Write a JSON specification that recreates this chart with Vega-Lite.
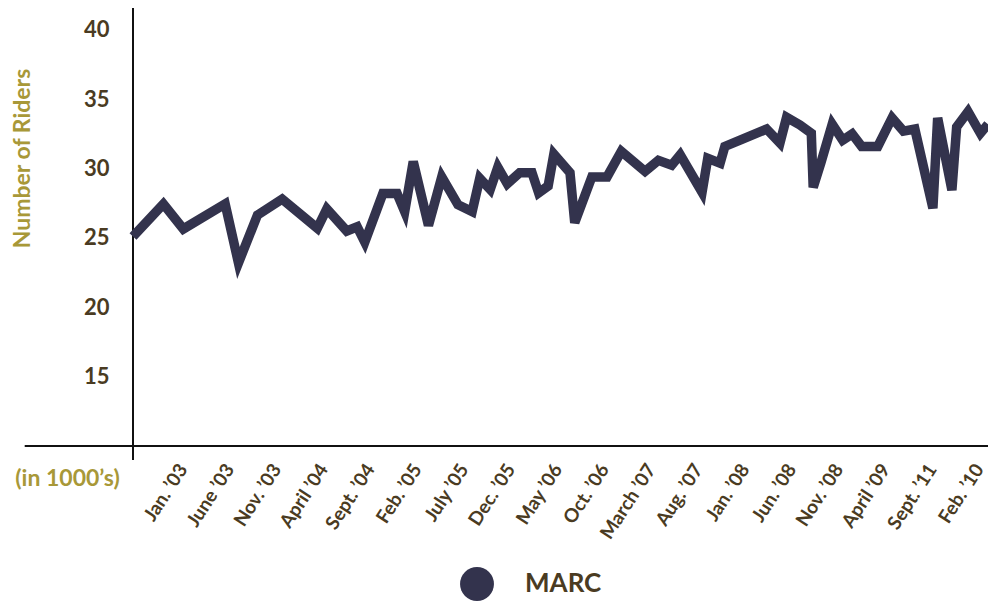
{
  "$schema": "https://vega.github.io/schema/vega-lite/v6.json",
  "width": 855,
  "height": 438,
  "autosize": {"type": "none"},
  "padding": {"left": 133, "top": 8, "right": 0, "bottom": 160},
  "background": "white",
  "config": {"view": {"stroke": null}, "font": "Lato"},
  "datasets": {
    "riders": [
      {"t": 0, "riders": 25.1}, {"t": 3.2, "riders": 27.45}, {"t": 5.3, "riders": 25.65}, {"t": 9.7, "riders": 27.45},
      {"t": 11.1, "riders": 23.2}, {"t": 13.1, "riders": 26.65}, {"t": 15.7, "riders": 27.8}, {"t": 19.4, "riders": 25.7},
      {"t": 20.4, "riders": 27.1}, {"t": 22.5, "riders": 25.5}, {"t": 23.6, "riders": 25.8}, {"t": 24.4, "riders": 24.7},
      {"t": 26.3, "riders": 28.2}, {"t": 27.8, "riders": 28.2}, {"t": 28.6, "riders": 26.9}, {"t": 29.5, "riders": 30.5},
      {"t": 31.1, "riders": 25.9}, {"t": 32.5, "riders": 29.4}, {"t": 34.2, "riders": 27.4}, {"t": 35.7, "riders": 26.9},
      {"t": 36.5, "riders": 29.3}, {"t": 37.6, "riders": 28.5}, {"t": 38.4, "riders": 30.1}, {"t": 39.4, "riders": 28.9},
      {"t": 40.7, "riders": 29.7}, {"t": 42.0, "riders": 29.7}, {"t": 42.7, "riders": 28.25}, {"t": 43.7, "riders": 28.75},
      {"t": 44.3, "riders": 31.05}, {"t": 46.0, "riders": 29.7}, {"t": 46.5, "riders": 26.1}, {"t": 48.3, "riders": 29.4},
      {"t": 49.9, "riders": 29.4}, {"t": 51.4, "riders": 31.25}, {"t": 53.9, "riders": 29.8}, {"t": 55.3, "riders": 30.6},
      {"t": 56.7, "riders": 30.25}, {"t": 57.6, "riders": 31.0}, {"t": 59.9, "riders": 28.3}, {"t": 60.5, "riders": 30.75},
      {"t": 61.8, "riders": 30.4}, {"t": 62.3, "riders": 31.6}, {"t": 63.9, "riders": 32.05}, {"t": 66.7, "riders": 32.85},
      {"t": 68.1, "riders": 31.85}, {"t": 68.8, "riders": 33.7}, {"t": 70.2, "riders": 33.15}, {"t": 71.4, "riders": 32.55},
      {"t": 71.6, "riders": 28.65}, {"t": 72.4, "riders": 30.4}, {"t": 73.6, "riders": 33.2}, {"t": 74.7, "riders": 32.05},
      {"t": 75.7, "riders": 32.5}, {"t": 76.7, "riders": 31.6}, {"t": 78.4, "riders": 31.6}, {"t": 79.9, "riders": 33.65},
      {"t": 81.1, "riders": 32.7}, {"t": 82.3, "riders": 32.85}, {"t": 84.2, "riders": 27.15}, {"t": 84.7, "riders": 33.65},
      {"t": 86.2, "riders": 28.45}, {"t": 86.7, "riders": 33.0}, {"t": 87.9, "riders": 34.1}, {"t": 89.2, "riders": 32.55},
      {"t": 90.0, "riders": 33.2}
    ]
  },
  "layer": [
    {
      "data": {"values": [{"from": -11.4, "to": 90, "level": 10}]},
      "mark": {"type": "rule", "color": "#111111", "strokeWidth": 2},
      "encoding": {
        "x": {"field": "from", "type": "quantitative", "scale": {"domain": [0, 90], "nice": false, "zero": false}},
        "x2": {"field": "to"},
        "y": {"field": "level", "type": "quantitative", "scale": {"domain": [10, 41.58], "nice": false, "zero": false}}
      }
    },
    {
      "data": {"values": [{"at": 0, "low": 8.99, "high": 41.58}]},
      "mark": {"type": "rule", "color": "#111111", "strokeWidth": 2},
      "encoding": {
        "x": {"field": "at", "type": "quantitative"},
        "y": {"field": "low", "type": "quantitative"},
        "y2": {"field": "high"}
      }
    },
    {
      "data": {"name": "riders"},
      "transform": [{"calculate": "'MARC'", "as": "series"}],
      "mark": {"type": "line", "strokeWidth": 9.5, "strokeJoin": "miter"},
      "encoding": {
        "x": {
          "field": "t", "type": "quantitative",
          "axis": {
            "values": [5.8, 10.73, 15.66, 20.59, 25.52, 30.45, 35.38, 40.31, 45.24, 50.17, 55.1, 60.03, 64.96, 69.89, 74.82, 79.75, 84.68, 89.61],
            "labelExpr": "['Jan. ’03','June ’03','Nov. ’03','April ’04','Sept. ’04','Feb. ’05','July ’05','Dec. ’05','May ’06','Oct. ’06','March ’07','Aug. ’07','Jan. ’08','Jun. ’08','Nov. ’08','April ’09','Sept. ’11','Feb. ’10'][round((datum.value-5.8)/4.93)]",
            "labelAngle": -57, "labelAlign": "right", "labelBaseline": "bottom",
            "labelPadding": 25, "labelOffset": 3, "labelFontSize": 19, "labelFontWeight": "bold", "labelColor": "#4a3b22",
            "labelOverlap": false, "labelFlush": false,
            "domain": false, "ticks": false, "grid": false,
            "title": "(in 1000’s)", "titleX": -66, "titleY": 32, "titleAlign": "center", "titleBaseline": "middle",
            "titleFontSize": 23, "titleFontWeight": "bold", "titleColor": "#a89838"
          }
        },
        "y": {
          "field": "riders", "type": "quantitative",
          "axis": {
            "values": [15, 20, 25, 30, 35, 40],
            "labelFontSize": 22, "labelFontWeight": "bold", "labelColor": "#4a3b22", "labelPadding": 24,
            "domain": false, "ticks": false, "grid": false,
            "title": "Number of Riders", "titleAngle": -90, "titleX": -111, "titleY": 150,
            "titleAlign": "center", "titleBaseline": "middle",
            "titleFontSize": 23, "titleFontWeight": "bold", "titleColor": "#a89838"
          }
        },
        "color": {
          "field": "series", "type": "nominal",
          "scale": {"domain": ["MARC"], "range": ["#33334d"]},
          "legend": {
            "title": null, "orient": "none", "legendX": 327, "legendY": 559, "padding": 0,
            "symbolType": "circle", "symbolSize": 1150, "symbolFillColor": "#33334d", "symbolStrokeWidth": 0,
            "labelFontSize": 26, "labelFontWeight": "bold", "labelColor": "#4a3b22", "labelOffset": 31
          }
        }
      }
    }
  ]
}
